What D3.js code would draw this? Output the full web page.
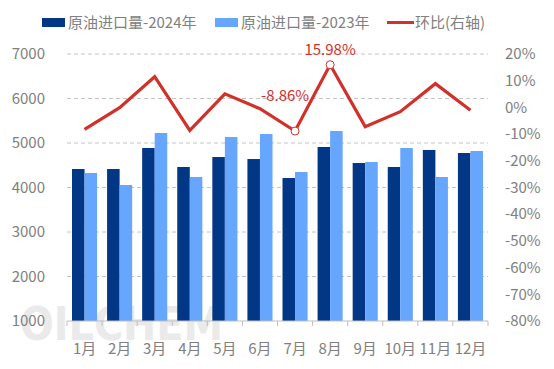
<!DOCTYPE html>
<html>
<head>
<meta charset="utf-8">
<script src="https://cdn.jsdelivr.net/npm/d3@7"></script>
<style>
  body { margin: 0; background: #fff; }
  svg text { font-family: "Microsoft YaHei", "Noto Sans CJK SC", sans-serif; }
</style>
</head>
<body>
<svg id="chart" width="554" height="369"></svg>
<script>
// --- DATA ---
const months = ["1月","2月","3月","4月","5月","6月","7月","8月","9月","10月","11月","12月"];
const import2024 = [4416, 4416, 4888, 4461, 4685, 4640, 4213, 4910, 4550, 4461, 4843, 4775];
const import2023 = [4326, 4056, 5225, 4236, 5135, 5202, 4348, 5270, 4573, 4888, 4236, 4820];
const momChange = [-8.2, -0.1, 11.5, -8.6, 5.1, -0.5, -8.86, 15.98, -7.2, -1.6, 8.9, -1.1];
const leftTicks = [1000, 2000, 3000, 4000, 5000, 6000, 7000];
const rightTicks = [-80, -70, -60, -50, -40, -30, -20, -10, 0, 10, 20];
const labelled = [6, 7];

// --- LAYOUT ---
const plot = { left: 67, right: 488, top: 54, bottom: 321 };
const DARK = "#023786", LIGHT = "#67a6fd", RED = "#d2312a", GREY = "#808080";

const svg = d3.select("#chart");

const x = d3.scaleBand().domain(months).range([plot.left, plot.right]);
const inner = d3.scaleBand().domain(["a", "b"]).range([5, x.bandwidth() - 5]);
const yL = d3.scaleLinear().domain([1000, 7000]).range([plot.bottom, plot.top]);
const yR = d3.scaleLinear().domain([-80, 20]).range([plot.bottom, plot.top]);

// watermark
svg.append("text")
  .attr("x", 20).attr("y", 340)
  .attr("font-size", 46).attr("font-weight", 700)
  .attr("textLength", 203).attr("lengthAdjust", "spacingAndGlyphs")
  .attr("fill", "#e4e4e4").attr("opacity", 0.75)
  .style("font-family", "'DejaVu Sans', sans-serif")
  .text("OILCHEM");

// gridlines
svg.append("g").selectAll("line")
  .data(leftTicks.slice(1))
  .join("line")
  .attr("x1", plot.left).attr("x2", plot.right)
  .attr("y1", d => yL(d)).attr("y2", d => yL(d))
  .attr("stroke", "#c4c4c4").attr("stroke-width", 1)
  .attr("stroke-dasharray", "4,3");

// bars
const groups = svg.append("g").selectAll("g")
  .data(months)
  .join("g")
  .attr("transform", d => `translate(${x(d)},0)`);

groups.append("rect")
  .attr("x", inner("a")).attr("width", inner.bandwidth())
  .attr("y", (d, i) => yL(import2024[i]))
  .attr("height", (d, i) => yL(1000) - yL(import2024[i]))
  .attr("fill", DARK);

groups.append("rect")
  .attr("x", inner("b")).attr("width", inner.bandwidth())
  .attr("y", (d, i) => yL(import2023[i]))
  .attr("height", (d, i) => yL(1000) - yL(import2023[i]))
  .attr("fill", LIGHT);

// bottom axis
const xAxis = svg.append("g").attr("transform", `translate(0,${plot.bottom})`);
xAxis.append("line")
  .attr("x1", plot.left).attr("x2", plot.right)
  .attr("stroke", "#bfbfbf");
xAxis.selectAll("line.tick")
  .data(months.map(m => x(m)).concat([plot.right]))
  .join("line")
  .attr("class", "tick")
  .attr("x1", d => d).attr("x2", d => d)
  .attr("y1", 0).attr("y2", 5)
  .attr("stroke", "#bfbfbf");
xAxis.selectAll("text")
  .data(months)
  .join("text")
  .attr("x", d => x(d) + x.bandwidth() / 2)
  .attr("y", 33)
  .attr("text-anchor", "middle")
  .attr("font-size", 15)
  .attr("fill", GREY)
  .text(d => d);

// left axis labels
svg.append("g").selectAll("text")
  .data(leftTicks)
  .join("text")
  .attr("x", 45).attr("y", d => yL(d))
  .attr("dy", "0.35em")
  .attr("text-anchor", "end")
  .attr("font-size", 15)
  .attr("fill", GREY)
  .text(d => d);

// right axis labels
svg.append("g").selectAll("text")
  .data(rightTicks)
  .join("text")
  .attr("x", 505).attr("y", d => yR(d))
  .attr("dy", "0.35em")
  .attr("text-anchor", "start")
  .attr("font-size", 15)
  .attr("fill", GREY)
  .text(d => d + "%");

// line
const cx = i => x(months[i]) + x.bandwidth() / 2;
const line = d3.line().x((d, i) => cx(i)).y(d => yR(d));
svg.append("path")
  .datum(momChange)
  .attr("d", line)
  .attr("fill", "none")
  .attr("stroke", RED)
  .attr("stroke-width", 3.2)
  .attr("stroke-linejoin", "miter");

svg.append("g").selectAll("circle")
  .data(labelled)
  .join("circle")
  .attr("cx", i => cx(i))
  .attr("cy", i => yR(momChange[i]))
  .attr("r", 4)
  .attr("fill", "#fff")
  .attr("stroke", RED)
  .attr("stroke-width", 1);

svg.append("g").selectAll("text")
  .data(labelled)
  .join("text")
  .attr("x", i => i === 6 ? cx(i) - 10 : cx(i))
  .attr("y", i => i === 6 ? yR(momChange[i]) - 35 : yR(momChange[i]) - 15)
  .attr("dy", "0.35em")
  .attr("text-anchor", "middle")
  .attr("font-size", 15)
  .attr("fill", RED)
  .text(i => momChange[i].toFixed(2) + "%");

// legend
const legend = svg.append("g");
legend.append("rect").attr("x", 42).attr("y", 18).attr("width", 23).attr("height", 9).attr("fill", DARK);
legend.append("text").attr("x", 68).attr("y", 23).attr("dy", "0.35em")
  .attr("font-size", 15).attr("fill", GREY).text("原油进口量-2024年");
legend.append("rect").attr("x", 215).attr("y", 18).attr("width", 23).attr("height", 9).attr("fill", LIGHT);
legend.append("text").attr("x", 241).attr("y", 23).attr("dy", "0.35em")
  .attr("font-size", 15).attr("fill", GREY).text("原油进口量-2023年");
legend.append("line").attr("x1", 387).attr("x2", 414).attr("y1", 22.5).attr("y2", 22.5)
  .attr("stroke", RED).attr("stroke-width", 3);
legend.append("text").attr("x", 415).attr("y", 23).attr("dy", "0.35em")
  .attr("font-size", 15).attr("fill", GREY).text("环比(右轴)");
</script>
</body>
</html>
